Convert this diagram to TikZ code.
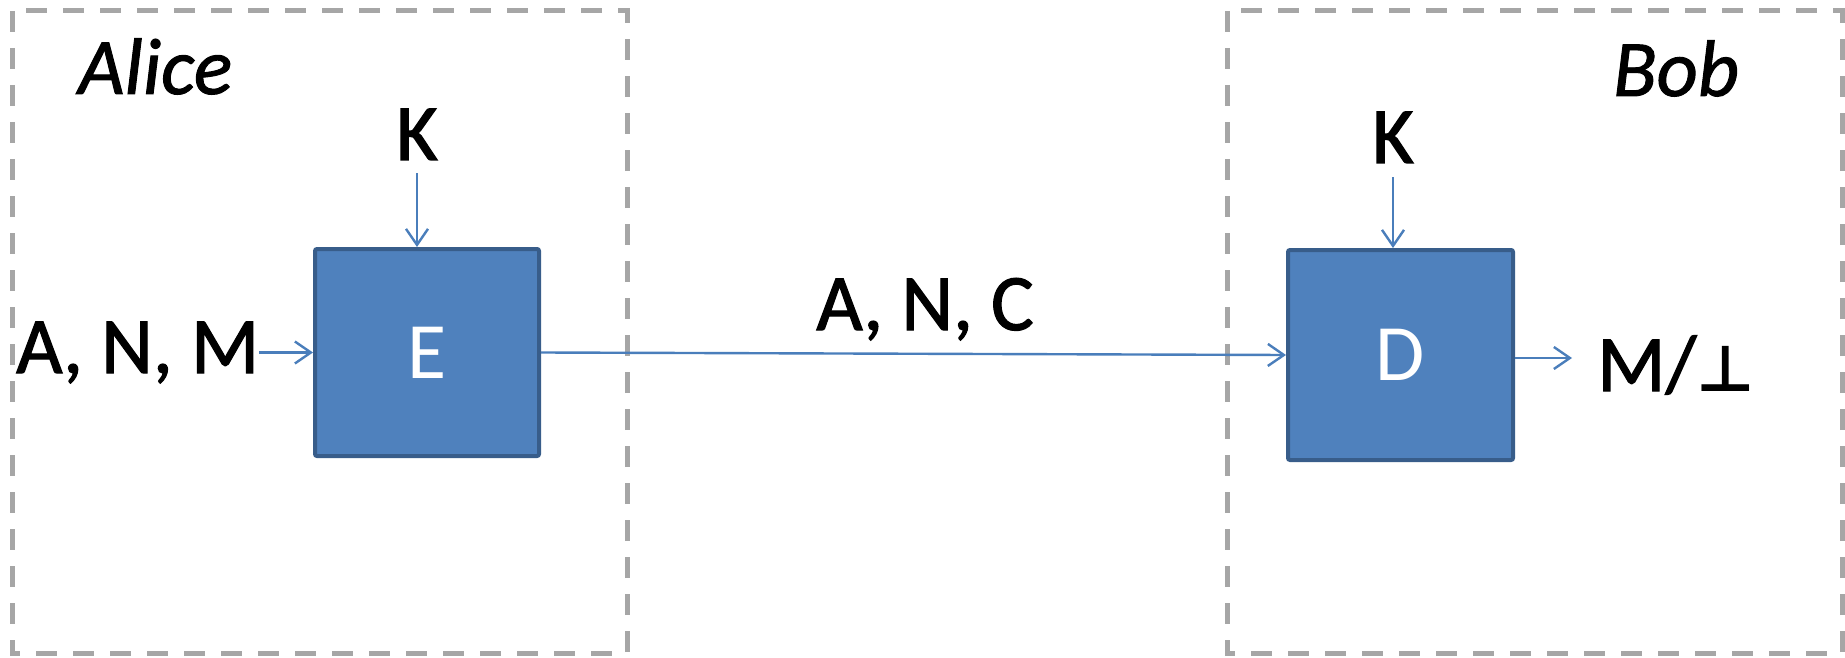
\documentclass[tikz,border=0pt]{standalone}
\usepackage{fontspec}
\setmainfont{Carlito}
\newfontfamily\heavy{Carlito}[FakeBold=1.5]
\newfontfamily\heavyit{Carlito Italic}[FakeBold=1.2]
\newfontfamily\symfont{DejaVu Sans}
\usetikzlibrary{arrows.meta}
\definecolor{boxfill}{HTML}{4F81BD}
\definecolor{boxdraw}{HTML}{385D8A}
\definecolor{arrowcol}{HTML}{4A7EBB}
\definecolor{dashgray}{HTML}{A6A6A6}
\begin{document}
\begin{tikzpicture}[x=1pt,y=-1pt,
  lbl/.style={font=\heavy\fontsize{80}{96}\selectfont, inner sep=0pt, anchor=base},
  party/.style={font=\heavyit\fontsize{80}{96}\selectfont, inner sep=0pt, anchor=base west},
  blockbox/.style={draw=boxdraw, fill=boxfill, line width=4pt, rounded corners=2pt,
    text=white, font=\fontsize{80}{96}\selectfont, inner sep=0pt},
  conn/.style={draw=arrowcol, line width=2.4pt, -{Straight Barb[length=16pt,width=22pt,line width=2.4pt]}},
  zone/.style={draw=dashgray, line width=5pt, dash pattern=on 21pt off 16pt}
]
\useasboundingbox (0,0) rectangle (1845,658);
% party zones
\draw[zone] (12,11) rectangle (627,653);
\draw[zone] (1227,11) rectangle (1842,653);
\node[party] (alice) at (78,94) {Alice};
\node[party] (bob) at (1613,96) {Bob};
% blocks
\node[blockbox, minimum width=224pt, minimum height=207pt] (E) at (427,352.5) {E};
\node[blockbox, minimum width=225pt, minimum height=210pt] (D) at (1400.5,355) {D};
% labels
\node[lbl] (kA) at (417,160) {K};
\node[lbl] (kB) at (1393,163) {K};
\node[lbl, anchor=base west] (anm) at (16,373) {A, N, M};
\node[lbl] (anc) at (925,330) {A, N, C};
\node[lbl, anchor=base west] (mout) at (1597,391) {M/{\symfont\bfseries\fontsize{64}{70}\selectfont ⊥}};
\coordinate (outend) at (1572,358);
% connectors
\draw[conn, shorten <=13pt] (kA.south) -- (kA.south |- E.north);
\draw[conn, shorten <=14pt] (kB.south) -- (kB.south |- D.north);
\draw[conn] (anm.east |- E.west) -- (E.west);
\draw[conn] (E.east) -- (D.west);
\draw[conn] (D.east |- outend) -- (outend);
\end{tikzpicture}
\end{document}
